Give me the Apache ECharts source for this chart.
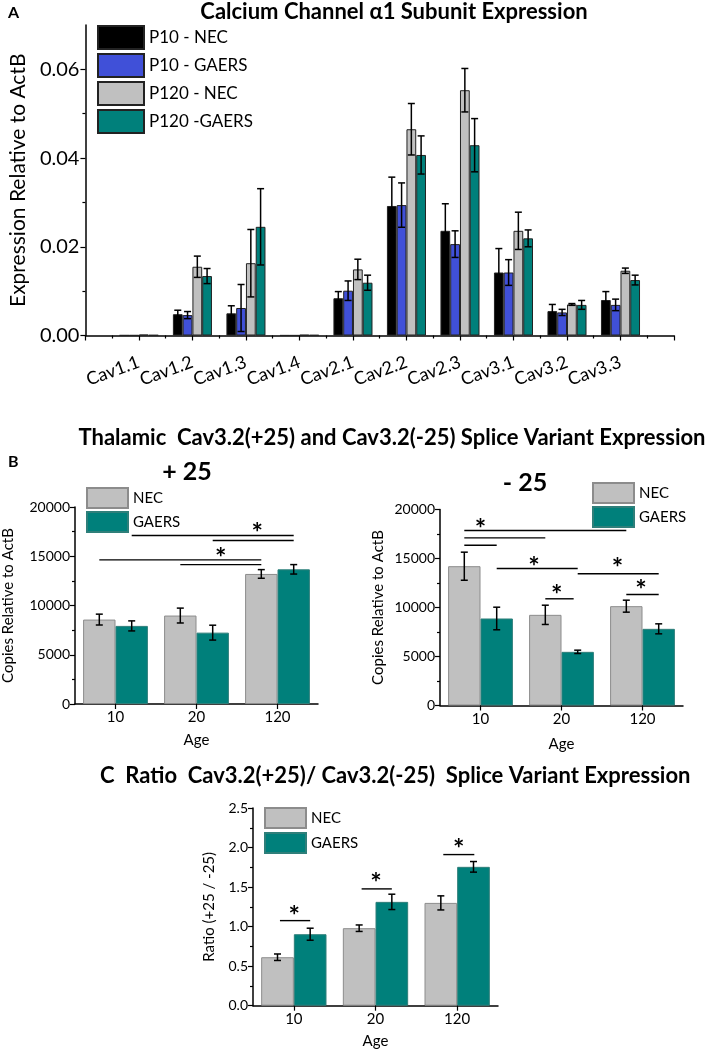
<!DOCTYPE html>
<html><head><meta charset="utf-8">
<script src="https://cdn.jsdelivr.net/npm/echarts@6/dist/echarts.min.js"></script>
<style>html,body{margin:0;padding:0;background:#fff}#c{width:709px;height:1052px}</style>
</head><body><div id="c"></div>
<script>
const FONT = 'Lato, "Open Sans", sans-serif';

// ---------- Panel A data ----------
const subunits = ['Cav1.1','Cav1.2','Cav1.3','Cav1.4','Cav2.1','Cav2.2','Cav2.3','Cav3.1','Cav3.2','Cav3.3'];
const groupNamesA = ['P10 - NEC','P10 - GAERS','P120 - NEC','P120 -GAERS'];
const yTicksA = [0, 0.02, 0.04, 0.06];
const p10NEC     = [0.00005,0.0048,0.0050,0.00003,0.0084,0.0292,0.0236,0.0142,0.0055,0.0080];
const p10GAERS   = [0.00005,0.0046,0.0062,0.00003,0.0101,0.0294,0.0206,0.0142,0.0052,0.0069];
const p120NEC    = [0.0002,0.0155,0.0163,0.00015,0.0149,0.0465,0.0553,0.0236,0.0070,0.0146];
const p120GAERS  = [0.0001,0.0134,0.0245,0.0001,0.0119,0.0407,0.0429,0.0219,0.0069,0.0125];
const p10NECErr    = [0,0.0009,0.0017,0,0.0015,0.0065,0.0061,0.0054,0.0015,0.0019];
const p10GAERSErr  = [0,0.0008,0.0053,0,0.0022,0.0050,0.0030,0.0029,0.0007,0.0013];
const p120NECErr   = [0,0.0024,0.0076,0,0.0023,0.0058,0.0049,0.0042,0.0002,0.0006];
const p120GAERSErr = [0,0.0017,0.0086,0,0.0017,0.0043,0.0060,0.0019,0.0010,0.0011];

// ---------- Panel B / C data ----------
const ages = ['10','20','120'];
const groupNamesB = ['NEC','GAERS'];
const plus25NEC = [8571, 8980, 13204];
const plus25NECErr = [551, 755, 439];
const plus25GAERS = [7929, 7245, 13673];
const plus25GAERSErr = [510, 755, 480];
const minus25NEC = [14214, 9252, 10136];
const minus25NECErr = [1432, 983, 612];
const minus25GAERS = [8878, 5476, 7823];
const minus25GAERSErr = [1153, 170, 510];
const ratioNEC = [0.613, 0.980, 1.300];
const ratioNECErr = [0.041, 0.041, 0.089];
const ratioGAERS = [0.904, 1.313, 1.756];
const ratioGAERSErr = [0.076, 0.097, 0.067];

// significance bars: [from, to, y] with from/to in category units (0 = centre of first age)
const plus25Sig = [[0.2, 2.2, 17112], [1.2, 2.2, 16602], [-0.2, 1.8, 14633], [0.8, 1.8, 14153]];
const plus25Stars = [[1.75, 17929], [1.3, 15378]];
const minus25Sig = [[-0.2, 1.8, 17857], [-0.2, 0.8, 17109], [-0.2, 0.2, 16357], [0.2, 1.2, 13980], [1.2, 2.2, 13439], [0.8, 1.15, 10888], [1.8, 2.2, 11327]];
const minus25Stars = [[0.0, 18643], [0.66, 14724], [1.69, 14622], [0.94, 11837], [1.98, 12418]];
const ratioSig = [[-0.17, 0.2, 1.076], [0.83, 1.2, 1.477], [1.83, 2.21, 1.911]];
const ratioStars = [[0.005, 1.211], [1.005, 1.62], [2.02, 2.056]];

const BLUE = '#4050d8', GRAY = '#c0c0c0', TEAL = '#00807b';
const chart = echarts.init(document.getElementById('c'), null, {renderer: 'canvas'});

function errRender(gapFrac, nSeries) {
  return function (params, api) {
    const x = api.value(0), y = api.value(1), e = api.value(2), k = api.value(3);
    if (!e) return null;
    const band = api.size([1, 0])[0];
    const bw = band * (1 - gapFrac) / nSeries;
    const cx = api.coord([x, y])[0] + (k - (nSeries - 1) / 2) * bw;
    const top = api.coord([x, y + e])[1], bot = api.coord([x, y - e])[1];
    const cap = 3.5, st = {stroke: '#000', lineWidth: 1.5};
    return {type: 'group', children: [
      {type: 'line', shape: {x1: cx, y1: top, x2: cx, y2: bot}, style: st},
      {type: 'line', shape: {x1: cx - cap, y1: top, x2: cx + cap, y2: top}, style: st},
      {type: 'line', shape: {x1: cx - cap, y1: bot, x2: cx + cap, y2: bot}, style: st}
    ]};
  };
}
function sigRender(params, api) {
  const y = api.value(1), a = api.value(2), b = api.value(3);
  const band = api.size([1, 0])[0];
  const c0 = api.coord([0, y]);
  return {type: 'line', shape: {x1: c0[0] + a * band, y1: c0[1], x2: c0[0] + b * band, y2: c0[1]},
    style: {stroke: '#000', lineWidth: 1.4}};
}
function starRender(params, api) {
  const y = api.value(1), a = api.value(2);
  const band = api.size([1, 0])[0];
  const c0 = api.coord([0, y]);
  return {type: 'text', x: c0[0] + a * band, y: c0[1] + 6,
    style: {text: '*', font: 'bold 27px ' + FONT, fill: '#000', align: 'center', verticalAlign: 'middle'}};
}

const series = [];
// Panel A bars
[[p10NEC, '#000000'], [p10GAERS, BLUE], [p120NEC, GRAY], [p120GAERS, TEAL]].forEach(([arr, col], k) => {
  series.push({type: 'bar', name: groupNamesA[k], xAxisIndex: 0, yAxisIndex: 0,
    data: arr.map((v, i) => [i + 1, v]), barGap: '0%', barCategoryGap: '27%',
    itemStyle: {color: col, borderColor: '#222', borderWidth: 1}});
});
const errA = [];
[[p10NEC, p10NECErr], [p10GAERS, p10GAERSErr], [p120NEC, p120NECErr], [p120GAERS, p120GAERSErr]].forEach(([v, e], k) => {
  v.forEach((val, i) => errA.push([i + 1, val, e[i], k]));
});
series.push({type: 'custom', xAxisIndex: 0, yAxisIndex: 0, data: errA, encode: {x: 0, y: 1},
  renderItem: errRender(0.27, 4), z: 5, silent: true});

// Panels B-left, B-right, C
const panels = [
  {nec: plus25NEC, necE: plus25NECErr, g: plus25GAERS, gE: plus25GAERSErr, sig: plus25Sig, stars: plus25Stars},
  {nec: minus25NEC, necE: minus25NECErr, g: minus25GAERS, gE: minus25GAERSErr, sig: minus25Sig, stars: minus25Stars},
  {nec: ratioNEC, necE: ratioNECErr, g: ratioGAERS, gE: ratioGAERSErr, sig: ratioSig, stars: ratioStars}
];
panels.forEach((p, j) => {
  const ax = j + 1;
  series.push({type: 'bar', name: 'NEC', xAxisIndex: ax, yAxisIndex: ax, data: p.nec,
    barGap: '0%', barCategoryGap: '20%', itemStyle: {color: GRAY, borderColor: '#8c8c8c', borderWidth: 1}});
  series.push({type: 'bar', name: 'GAERS', xAxisIndex: ax, yAxisIndex: ax, data: p.g,
    barGap: '0%', barCategoryGap: '20%', itemStyle: {color: TEAL, borderColor: '#2f7f7a', borderWidth: 1}});
  const ed = [];
  p.nec.forEach((v, i) => ed.push([i, v, p.necE[i], 0]));
  p.g.forEach((v, i) => ed.push([i, v, p.gE[i], 1]));
  series.push({type: 'custom', xAxisIndex: ax, yAxisIndex: ax, data: ed, encode: {x: 0, y: 1},
    renderItem: errRender(0.2, 2), z: 5, silent: true});
  series.push({type: 'custom', xAxisIndex: ax, yAxisIndex: ax, data: p.sig.map(s => [0, s[2], s[0], s[1]]),
    encode: {x: 0, y: 1}, renderItem: sigRender, z: 6, silent: true});
  series.push({type: 'custom', xAxisIndex: ax, yAxisIndex: ax, data: p.stars.map(s => [0, s[1], s[0]]),
    encode: {x: 0, y: 1}, renderItem: starRender, z: 6, silent: true});
});

const axisLineStyle = {show: true, lineStyle: {color: '#000', width: 1.5}};
const tickStyle = {color: '#000', width: 1.2};
function catX(gi, nameGap) {
  return {gridIndex: gi, type: 'category', data: ages, boundaryGap: true,
    axisLine: axisLineStyle, axisTick: {show: true, alignWithLabel: true, length: 5, lineStyle: tickStyle},
    axisLabel: {fontSize: 15, color: '#000', fontFamily: FONT, margin: 6},
    name: 'Age', nameLocation: 'middle', nameGap: nameGap,
    nameTextStyle: {fontSize: 15, color: '#000', fontFamily: FONT}};
}
function valY(gi, max, interval, name, nameGap, fmt) {
  return {gridIndex: gi, type: 'value', min: 0, max: max, interval: interval,
    axisLine: axisLineStyle, axisTick: {show: true, length: 5, lineStyle: tickStyle},
    minorTick: {show: true, splitNumber: 2, length: 3, lineStyle: tickStyle},
    splitLine: {show: false}, minorSplitLine: {show: false},
    axisLabel: {fontSize: 14, color: '#000', fontFamily: FONT, margin: 5, formatter: fmt},
    name: name, nameLocation: 'middle', nameGap: nameGap, nameRotate: 90,
    nameTextStyle: {fontSize: 15, color: '#000', fontFamily: FONT}};
}

const yA = valY(0, 0.07, 0.02, 'Expression Relative to ActB', 54, v => v.toFixed(2));
yA.axisTick = {show: true, length: 5, lineStyle: tickStyle, customValues: yTicksA};
yA.axisLabel = {fontSize: 20, color: '#000', fontFamily: FONT, margin: 6, customValues: yTicksA,
  formatter: v => Number(v).toFixed(2)};
yA.nameTextStyle = {fontSize: 21, color: '#000', fontFamily: FONT};

const option = {
  animation: false,
  backgroundColor: '#fff',
  textStyle: {fontFamily: FONT},
  grid: [
    {left: 85, top: 25, width: 589, height: 310.5},
    {left: 74, top: 507, width: 244, height: 197},
    {left: 440, top: 509.5, width: 243, height: 196},
    {left: 253, top: 808, width: 245, height: 197.7}
  ],
  xAxis: [
    {gridIndex: 0, type: 'value', min: 0, max: 11, interval: 1,
      axisLine: axisLineStyle, axisTick: {show: true, length: 5, lineStyle: tickStyle},
      minorTick: {show: true, splitNumber: 2, length: 3, lineStyle: tickStyle},
      splitLine: {show: false}, minorSplitLine: {show: false},
      axisLabel: {rotate: 20, margin: 26, fontSize: 18, color: '#000', fontFamily: FONT,
        showMinLabel: true, showMaxLabel: true,
        formatter: v => subunits[v - 1] || ''}},
    catX(1, 29), catX(2, 31), catX(3, 28)
  ],
  yAxis: [
    yA,
    valY(1, 20000, 5000, 'Copies Relative to ActB', 59, v => String(v)),
    valY(2, 20000, 5000, 'Copies Relative to ActB', 54, v => String(v)),
    valY(3, 2.5, 0.5, 'Ratio (+25 / -25)', 36, v => v.toFixed(1))
  ],
  legend: [
    {left: 97, top: 25, orient: 'vertical', itemWidth: 46, itemHeight: 23, itemGap: 3, icon: 'rect',
      padding: 0, selectedMode: false, data: groupNamesA,
      textStyle: {fontSize: 17, color: '#000', fontFamily: FONT}},
    {left: 86, top: 487, orient: 'vertical', itemWidth: 41, itemHeight: 20, itemGap: 2, icon: 'rect',
      padding: 0, selectedMode: false, data: groupNamesB,
      textStyle: {fontSize: 15, color: '#000', fontFamily: FONT}},
    {left: 592, top: 482, orient: 'vertical', itemWidth: 41, itemHeight: 20, itemGap: 2, icon: 'rect',
      padding: 0, selectedMode: false, data: groupNamesB,
      textStyle: {fontSize: 15, color: '#000', fontFamily: FONT}},
    {left: 264, top: 807, orient: 'vertical', itemWidth: 41, itemHeight: 20, itemGap: 3, icon: 'rect',
      padding: 0, selectedMode: false, data: groupNamesB,
      textStyle: {fontSize: 15, color: '#000', fontFamily: FONT}}
  ],
  graphic: [
    {type: 'text', x: 8, y: 13, style: {text: 'A', font: 'bold 16px ' + FONT, fill: '#000', align: 'left', verticalAlign: 'middle'}},
    {type: 'text', x: 394, y: 12, style: {text: 'Calcium Channel α1 Subunit Expression', font: 'bold 22px ' + FONT, fill: '#000', align: 'center', verticalAlign: 'middle'}},
    {type: 'text', x: 392, y: 438, style: {text: 'Thalamic  Cav3.2(+25) and Cav3.2(-25) Splice Variant Expression', font: 'bold 22px ' + FONT, fill: '#000', align: 'center', verticalAlign: 'middle'}},
    {type: 'text', x: 8, y: 462, style: {text: 'B', font: 'bold 16px ' + FONT, fill: '#000', align: 'left', verticalAlign: 'middle'}},
    {type: 'text', x: 187, y: 472, style: {text: '+ 25', font: 'bold 25px ' + FONT, fill: '#000', align: 'center', verticalAlign: 'middle'}},
    {type: 'text', x: 525, y: 483, style: {text: '- 25', font: 'bold 25px ' + FONT, fill: '#000', align: 'center', verticalAlign: 'middle'}},
    {type: 'text', x: 100, y: 776, style: {text: 'C  Ratio  Cav3.2(+25)/ Cav3.2(-25)  Splice Variant Expression', font: 'bold 22px ' + FONT, fill: '#000', align: 'left', verticalAlign: 'middle'}}
  ],
  series: series
};
chart.setOption(option);
</script></body></html>
